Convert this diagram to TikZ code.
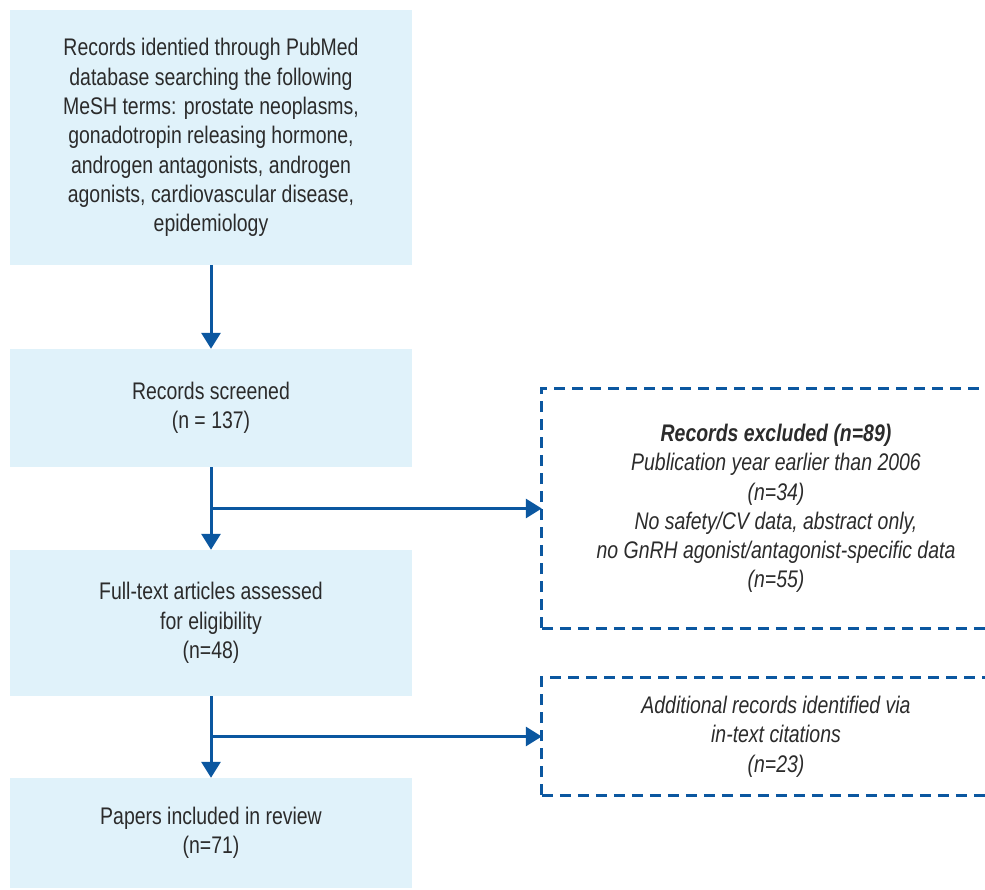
\documentclass[tikz,border=0pt]{standalone}
\usepackage{fontspec}
\setmainfont{Liberation Sans}[FakeStretch=0.81]
\usetikzlibrary{arrows.meta,calc}
\definecolor{boxfill}{HTML}{E0F2FA}
\definecolor{flowblue}{HTML}{0B57A0}
\definecolor{txtgray}{HTML}{2B2B2B}
\begin{document}
\begin{tikzpicture}[x=1pt,y=-1pt,
  box/.style={fill=boxfill, draw=none, inner sep=0pt, minimum width=402pt,
    align=center, text=txtgray, font=\fontsize{24}{29.3}\selectfont},
  sidebox/.style={draw=none, inner sep=0pt, minimum width=468pt,
    align=center, text=txtgray, font=\fontsize{24}{29.3}\selectfont\itshape},
  arr/.style={draw=flowblue, line width=3pt, -{Triangle[width=19pt,length=16pt]}},
  dashline/.style={draw=flowblue, line width=2.8pt, dash pattern=on 11pt off 7pt}]
\useasboundingbox (0,0) rectangle (985,890);
\coordinate (rx) at (985,0);
\node[box, minimum height=255pt] (b1) at (211,137.5) {Records identied through PubMed\\database searching the following\\MeSH terms: prostate neoplasms,\\gonadotropin releasing hormone,\\androgen antagonists, androgen\\agonists, cardiovascular disease,\\epidemiology};
\node[box, minimum height=118pt] (b2) at (211,408) {Records screened\\(n = 137)};
\node[box, minimum height=146pt] (b3) at (211,623) {Full-text articles assessed\\for eligibility\\(n=48)};
\node[box, minimum height=110pt] (b4) at (211,833) {Papers included in review\\(n=71)};
\node[sidebox, minimum height=239pt] (ex) at (776,508.5) {\textbf{Records excluded (n=89)}\\Publication year earlier than 2006\\(n=34)\\No safety/CV data, abstract only,\\no GnRH agonist/antagonist-specific data\\(n=55)};
\node[sidebox, minimum height=117pt] (ad) at (776,736.5) {Additional records identified via\\in-text citations\\(n=23)};
\draw[dashline] (ex.south west) -- (ex.north west) -- (ex.north west -| rx);
\draw[dashline] (ex.south west) -- (ex.south west -| rx);
\draw[dashline] (ad.south west) -- (ad.north west) -- (ad.north west -| rx);
\draw[dashline] (ad.south west) -- (ad.south west -| rx);
\draw[arr] (b1.south) -- (b2.north);
\draw[arr] (b2.south) -- (b3.north);
\draw[arr] (b3.south) -- (b4.north);
\draw[arr] (b2.south |- ex.west) -- (ex.west);
\draw[arr] (b3.south |- ad.west) -- (ad.west);
\end{tikzpicture}
\end{document}
